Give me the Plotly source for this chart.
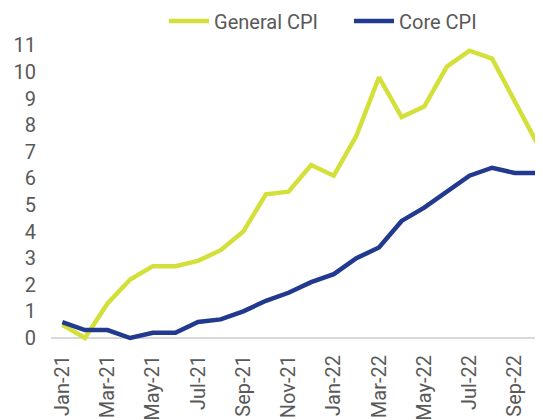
import plotly.graph_objects as go

# monthly inflation, % y/y
months = ["Jan-21", "Feb-21", "Mar-21", "Apr-21", "May-21", "Jun-21", "Jul-21", "Aug-21",
          "Sep-21", "Oct-21", "Nov-21", "Dec-21", "Jan-22", "Feb-22", "Mar-22", "Apr-22",
          "May-22", "Jun-22", "Jul-22", "Aug-22", "Sep-22", "Oct-22"]
general_cpi = [0.5, 0.0, 1.3, 2.2, 2.7, 2.7, 2.9, 3.3, 4.0, 5.4, 5.5, 6.5,
               6.1, 7.6, 9.8, 8.3, 8.7, 10.2, 10.8, 10.5, 8.9, 7.3]
core_cpi = [0.6, 0.3, 0.3, 0.0, 0.2, 0.2, 0.6, 0.7, 1.0, 1.4, 1.7, 2.1,
            2.4, 3.0, 3.4, 4.4, 4.9, 5.5, 6.1, 6.4, 6.2, 6.2]
y_ticks = list(range(0, 12))

GREEN = "#d4e03a"
NAVY = "#213a8f"
GREY_TEXT = "#595959"

fig = go.Figure()
fig.add_trace(go.Scatter(x=months, y=general_cpi, name="General CPI", mode="lines",
                         line=dict(color=GREEN, width=4.5)))
fig.add_trace(go.Scatter(x=months, y=core_cpi, name="Core CPI", mode="lines",
                         line=dict(color=NAVY, width=4.5)))

# page body has an 8px margin, so the figure is a bit smaller than the window
fig.update_layout(
    width=535, height=412,
    margin=dict(l=43, r=0, t=32, b=78, autoexpand=False),
    paper_bgcolor="white", plot_bgcolor="white",
    font=dict(family="Roboto", size=20, color=GREY_TEXT),
    showlegend=True,
    legend=dict(orientation="h", xref="container", x=0.2916, xanchor="left",
                y=1.063, yanchor="middle",
                font=dict(size=20, color=GREY_TEXT), traceorder="normal",
                itemwidth=40, entrywidth=130, bgcolor="rgba(0,0,0,0)"),
)
fig.update_xaxes(
    type="category", range=[-0.5, 21.25],
    tickmode="array", tickvals=months[::2], ticktext=months[::2],
    tickangle=-90, showgrid=False, showline=False, zeroline=False,
    ticks="", ticklabelstandoff=8, automargin=False,
)
fig.update_yaxes(
    range=[-0.15, 11.2], tickmode="array", tickvals=y_ticks,
    showgrid=False, showline=False, zeroline=True, zerolinecolor="#d9d9d9",
    zerolinewidth=1.5, ticks="", ticklabelstandoff=14, automargin=False,
)

fig.write_html("out.html")
